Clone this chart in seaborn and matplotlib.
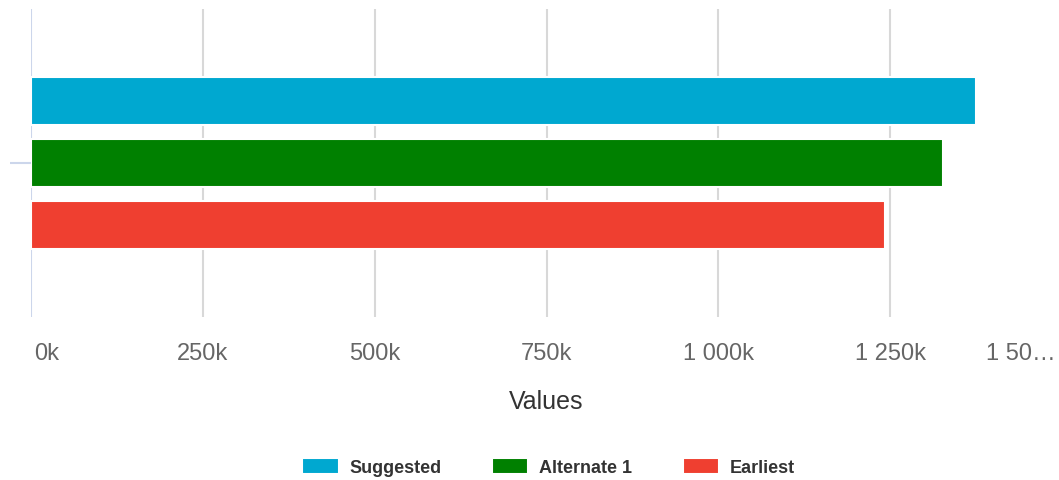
import matplotlib
matplotlib.use("Agg")
import matplotlib.pyplot as plt
import matplotlib.transforms as mtransforms
import seaborn as sns
import pandas as pd

# ---- data ----
category = [""]
series = ["Suggested", "Alternate 1", "Earliest"]
values = [1375000, 1327000, 1242000]
colors = ["#00a8d0", "#008000", "#ef3f30"]
tick_values = [0, 250000, 500000, 750000, 1000000, 1250000, 1500000]
tick_labels = ["0k", "250k", "500k", "750k", "1 000k", "1 250k", "1 50…"]
x_title = "Values"

df = pd.DataFrame({"cat": category * len(series), "series": series, "value": values})

sns.set_theme(style="white")
plt.rcParams["font.family"] = ["Liberation Sans", "DejaVu Sans"]

W, H = 1059, 481
fig = plt.figure(figsize=(W / 100, H / 100), dpi=100)
ax = fig.add_axes([31 / W, (H - 318) / H, (1062 - 31) / W, (318 - 10) / H])

sns.barplot(data=df, y="cat", x="value", hue="series", hue_order=series,
            palette=colors, orient="h", width=0.604, gap=0.24,
            edgecolor="white", linewidth=1.5, saturation=1, ax=ax, zorder=3)

handles, labels = ax.get_legend_handles_labels()
if ax.get_legend() is not None:
    ax.get_legend().remove()

ax.set_xlim(tick_values[0], tick_values[-1])
ax.set_ylim(0.5, -0.5)
ax.set_xticks(tick_values)
ax.set_xticklabels(tick_labels)
ax.tick_params(axis="x", length=0, pad=18, labelsize=17, labelcolor="#666666")
tl = ax.get_xticklabels()
tl[0].set_horizontalalignment("left")
tl[0].set_transform(tl[0].get_transform() + mtransforms.ScaledTranslation(3 / 100, 0, fig.dpi_scale_trans))
tl[-1].set_horizontalalignment("right")
tl[-1].set_transform(tl[-1].get_transform() + mtransforms.ScaledTranslation(-6 / 100, 0, fig.dpi_scale_trans))
ax.set_yticks([0])
ax.set_yticklabels([""])
ax.tick_params(axis="y", left=True, length=15, width=1.5, color="#ccd6eb", direction="out", pad=0)

ax.set_axisbelow(True)
ax.grid(axis="x", color="#d8d8d8", linewidth=1.5)
ax.grid(axis="y", visible=False)
ax.xaxis.get_gridlines()[0].set_color("#ccd6eb")
for s in ax.spines.values():
    s.set_visible(False)

ax.set_xlabel(x_title, fontsize=18, color="#333333", labelpad=18)
ax.set_ylabel("")

fig.legend(handles, labels, loc="center", bbox_to_anchor=(0.518, (H - 468) / H),
           ncol=3, frameon=False, prop={"weight": "bold", "size": 13},
           labelcolor="#333333", handlelength=2.0, handleheight=1.0,
           handletextpad=0.6, columnspacing=2.8)

fig.savefig("out.png", dpi=100)
